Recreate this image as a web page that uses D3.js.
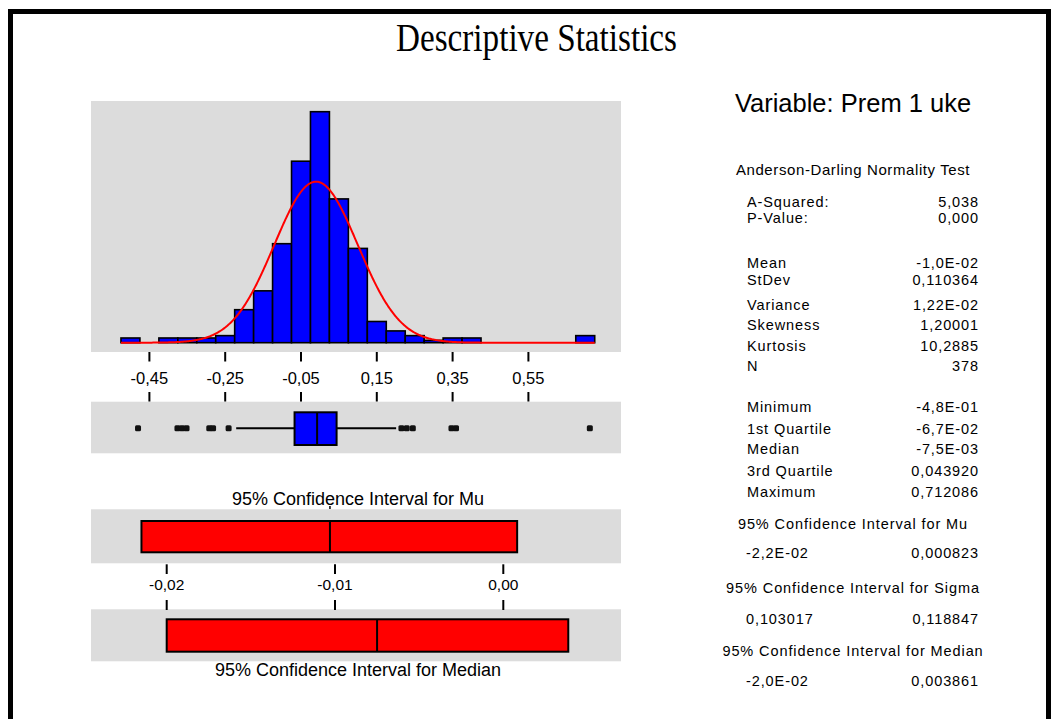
<!DOCTYPE html>
<html>
<head>
<meta charset="utf-8">
<script src="https://cdn.jsdelivr.net/npm/d3@7"></script>
<style>
  body { margin: 0; background: #fff; }
  svg { display: block; }
  text { font-family: "Liberation Sans", Arial, sans-serif; fill: #000; }
</style>
</head>
<body>
<svg id="chart" width="1054" height="719"></svg>
<script>
// ---- Histogram: bin midpoints and counts ----
const binMids = [-0.50, -0.45, -0.40, -0.35, -0.30, -0.25, -0.20, -0.15, -0.10, -0.05,
                 0.00, 0.05, 0.10, 0.15, 0.20, 0.25, 0.30, 0.35, 0.40, 0.45,
                 0.50, 0.55, 0.60, 0.65, 0.70];
const binCounts = [2, 0, 2, 2, 2, 3, 14, 22, 42, 77,
                   98, 61, 40, 9, 5, 3, 1, 2, 2, 0,
                   0, 0, 0, 0, 3];
const binWidth = 0.05;
const histTicks = [-0.45, -0.25, -0.05, 0.15, 0.35, 0.55];

// ---- Summary values ----
const nObs = 378;
const meanValue = -0.0103;
const stDev = 0.110364;
const quartiles = [-0.067, -0.0075, 0.043920];   // Q1, median, Q3
const whiskerEnds = [-0.221, 0.201];
const outliers = [-0.48, -0.376, -0.364, -0.352, -0.292, -0.282, -0.241,
                  0.215, 0.229, 0.245, 0.347, 0.359, 0.712086];

// ---- Confidence intervals ----
const muCI = [-0.0215, 0.000823];
const medianCI = [-0.020, 0.003861];
const ciTicks = [-0.02, -0.01, 0.00];

// ---- Text table ----
const adLabels = ["A-Squared:", "P-Value:"];
const adValues = ["5,038", "0,000"];
const momentLabels = ["Mean", "StDev", "Variance", "Skewness", "Kurtosis", "N"];
const momentValues = ["-1,0E-02", "0,110364", "1,22E-02", "1,20001", "10,2885", "378"];
const quantileLabels = ["Minimum", "1st Quartile", "Median", "3rd Quartile", "Maximum"];
const quantileValues = ["-4,8E-01", "-6,7E-02", "-7,5E-03", "0,043920", "0,712086"];
const ciTitles = ["95% Confidence Interval for Mu", "95% Confidence Interval for Sigma",
                  "95% Confidence Interval for Median"];
const ciLow = ["-2,2E-02", "0,103017", "-2,0E-02"];
const ciHigh = ["0,000823", "0,118847", "0,003861"];

// ---------------------------------------------------------------
const svg = d3.select("#chart");
const panelFill = "#dcdcdc";
// two decimals, comma as decimal mark, plain hyphen for negatives
const commaFmt = d => d3.format(".2f")(d).replace("\u2212", "-").replace(".", ",");

// Frame
svg.append("rect").attr("x", 8).attr("y", 9).attr("width", 1043).attr("height", 5).attr("fill", "#000");
svg.append("rect").attr("x", 8).attr("y", 9).attr("width", 5).attr("height", 710).attr("fill", "#000");
svg.append("rect").attr("x", 1046).attr("y", 9).attr("width", 5).attr("height", 710).attr("fill", "#000");

// Title
svg.append("text")
  .attr("x", 396).attr("y", 51)
  .attr("textLength", 281).attr("lengthAdjust", "spacingAndGlyphs")
  .style("font-family", "'Liberation Serif', 'Times New Roman', serif")
  .style("font-size", "41px")
  .text("Descriptive Statistics");

// Scales
const panelX0 = 91, panelX1 = 621;
const x = d3.scaleLinear().domain([-0.45, 0.55]).range([149.4, 528.4]);
const baseY = 342.7;
const y = d3.scaleLinear().domain([0, d3.max(binCounts)]).range([baseY, 111.7]);

// Histogram panel
svg.append("rect").attr("x", panelX0).attr("y", 101)
  .attr("width", panelX1 - panelX0).attr("height", 251).attr("fill", panelFill);

const bins = binMids.map((m, i) => ({ m, c: binCounts[i] })).filter(d => d.c > 0);
svg.append("g").selectAll("rect").data(bins).join("rect")
  .attr("x", d => x(d.m - binWidth / 2))
  .attr("width", d => x(d.m + binWidth / 2) - x(d.m - binWidth / 2))
  .attr("y", d => y(d.c))
  .attr("height", d => y(0) - y(d.c))
  .attr("fill", "#0000ff")
  .attr("stroke", "#000")
  .attr("stroke-width", 1.6);

// Fitted normal curve
const pdf = v => Math.exp(-0.5 * ((v - meanValue) / stDev) ** 2) / (stDev * Math.sqrt(2 * Math.PI));
const xs = d3.range(binMids[0] - binWidth / 2, binMids[binMids.length - 1] + binWidth / 2 + 1e-9, 0.002);
svg.append("path")
  .datum(xs)
  .attr("d", d3.line().x(v => x(v)).y(v => y(nObs * binWidth * pdf(v))))
  .attr("fill", "none").attr("stroke", "#ff0000").attr("stroke-width", 2);

// Histogram axis: tick above label, tick below label
const hAxis = svg.append("g");
histTicks.forEach(t => {
  hAxis.append("line").attr("x1", x(t)).attr("x2", x(t)).attr("y1", 352).attr("y2", 361.5)
    .attr("stroke", "#000").attr("stroke-width", 2);
  hAxis.append("line").attr("x1", x(t)).attr("x2", x(t)).attr("y1", 392).attr("y2", 401.7)
    .attr("stroke", "#000").attr("stroke-width", 2);
  hAxis.append("text").attr("x", x(t)).attr("y", 384).attr("text-anchor", "middle")
    .style("font-size", "16.5px").text(commaFmt(t));
});

// Boxplot panel
svg.append("rect").attr("x", panelX0).attr("y", 401.7)
  .attr("width", panelX1 - panelX0).attr("height", 51.6).attr("fill", panelFill);
const boxMidY = 428.3;
svg.append("line").attr("x1", x(whiskerEnds[0])).attr("x2", x(quartiles[0]))
  .attr("y1", boxMidY).attr("y2", boxMidY).attr("stroke", "#000").attr("stroke-width", 2);
svg.append("line").attr("x1", x(quartiles[2])).attr("x2", x(whiskerEnds[1]))
  .attr("y1", boxMidY).attr("y2", boxMidY).attr("stroke", "#000").attr("stroke-width", 2);
svg.append("rect").attr("x", x(quartiles[0])).attr("y", 412.3)
  .attr("width", x(quartiles[2]) - x(quartiles[0])).attr("height", 32.7)
  .attr("fill", "#0000ff").attr("stroke", "#000").attr("stroke-width", 2);
svg.append("line").attr("x1", x(quartiles[1])).attr("x2", x(quartiles[1]))
  .attr("y1", 412.3).attr("y2", 445).attr("stroke", "#000").attr("stroke-width", 2);
svg.append("g").selectAll("rect").data(outliers).join("rect")
  .attr("x", d => x(d) - 3).attr("y", boxMidY - 3)
  .attr("width", 6).attr("height", 6).attr("rx", 1.5)
  .attr("fill", "#111");

// Confidence interval panels
const xc = d3.scaleLinear().domain([-0.02, 0.00]).range([166.7, 503.3]);

svg.append("text").attr("x", 358).attr("y", 505).attr("text-anchor", "middle")
  .style("font-size", "18px").text(ciTitles[0]);
svg.append("line").attr("x1", xc(meanValue)).attr("x2", xc(meanValue))
  .attr("y1", 506).attr("y2", 509).attr("stroke", "#000").attr("stroke-width", 1.5);

svg.append("rect").attr("x", panelX0).attr("y", 509.3)
  .attr("width", panelX1 - panelX0).attr("height", 54).attr("fill", panelFill);
svg.append("rect").attr("x", xc(muCI[0])).attr("y", 521)
  .attr("width", xc(muCI[1]) - xc(muCI[0])).attr("height", 31.3)
  .attr("fill", "#ff0000").attr("stroke", "#000").attr("stroke-width", 2);
svg.append("line").attr("x1", xc(meanValue)).attr("x2", xc(meanValue))
  .attr("y1", 521).attr("y2", 552.3).attr("stroke", "#000").attr("stroke-width", 2);

svg.append("rect").attr("x", panelX0).attr("y", 609.3)
  .attr("width", panelX1 - panelX0).attr("height", 52).attr("fill", panelFill);
svg.append("rect").attr("x", xc(medianCI[0])).attr("y", 619.3)
  .attr("width", xc(medianCI[1]) - xc(medianCI[0])).attr("height", 32.4)
  .attr("fill", "#ff0000").attr("stroke", "#000").attr("stroke-width", 2);
svg.append("line").attr("x1", xc(quartiles[1])).attr("x2", xc(quartiles[1]))
  .attr("y1", 619.3).attr("y2", 651.7).attr("stroke", "#000").attr("stroke-width", 2);

const cAxis = svg.append("g");
ciTicks.forEach(t => {
  cAxis.append("line").attr("x1", xc(t)).attr("x2", xc(t)).attr("y1", 564.3).attr("y2", 574)
    .attr("stroke", "#000").attr("stroke-width", 2);
  cAxis.append("line").attr("x1", xc(t)).attr("x2", xc(t)).attr("y1", 600).attr("y2", 610)
    .attr("stroke", "#000").attr("stroke-width", 2);
  cAxis.append("text").attr("x", xc(t)).attr("y", 590).attr("text-anchor", "middle")
    .style("font-size", "15.5px").text(commaFmt(t));
});

svg.append("text").attr("x", 358).attr("y", 676).attr("text-anchor", "middle")
  .style("font-size", "18px").text(ciTitles[2]);

// Statistics column
const colL = 747, colR = 979, colC = 853;
const rowFont = "14.5px", rowSpacing = "0.9px";
svg.append("text").attr("x", colC).attr("y", 111.5).attr("text-anchor", "middle")
  .style("font-size", "25.5px").text("Variable: Prem 1 uke");
svg.append("text").attr("x", colC).attr("y", 175).attr("text-anchor", "middle")
  .style("font-size", "15px").style("letter-spacing", "0.6px")
  .text("Anderson-Darling Normality Test");

function rows(labels, values, ys) {
  labels.forEach((lab, i) => {
    svg.append("text").attr("x", colL).attr("y", ys[i])
      .style("font-size", rowFont).style("letter-spacing", rowSpacing).text(lab);
    svg.append("text").attr("x", colR).attr("y", ys[i]).attr("text-anchor", "end")
      .style("font-size", rowFont).style("letter-spacing", rowSpacing).text(values[i]);
  });
}
rows(adLabels, adValues, [206.7, 223.3]);
rows(momentLabels, momentValues, [268.3, 285, 309.5, 330, 351, 370.5]);
rows(quantileLabels, quantileValues, [412, 433.5, 454, 475.5, 496.5]);

const ciTitleY = [528.5, 592.5, 655.5];
const ciValueY = [557.5, 623.5, 685.5];
ciTitles.forEach((t, i) => {
  svg.append("text").attr("x", colC).attr("y", ciTitleY[i]).attr("text-anchor", "middle")
    .style("font-size", rowFont).style("letter-spacing", rowSpacing).text(t);
  svg.append("text").attr("x", 746).attr("y", ciValueY[i])
    .style("font-size", rowFont).style("letter-spacing", rowSpacing).text(ciLow[i]);
  svg.append("text").attr("x", colR).attr("y", ciValueY[i]).attr("text-anchor", "end")
    .style("font-size", rowFont).style("letter-spacing", rowSpacing).text(ciHigh[i]);
});
</script>
</body>
</html>
